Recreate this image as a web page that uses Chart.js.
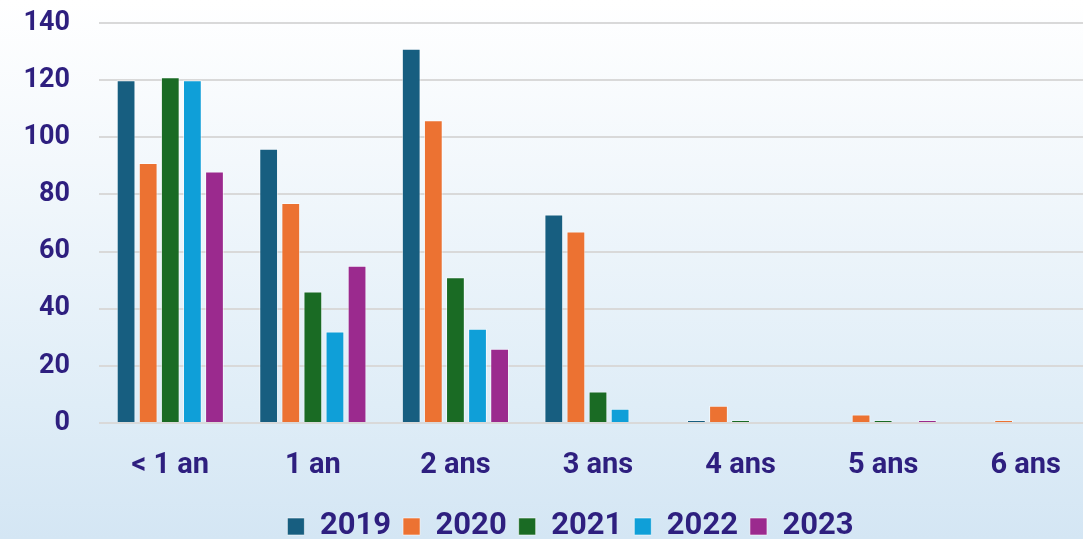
<!DOCTYPE html>
<html>
<head>
<meta charset="utf-8">
<script src="https://cdn.jsdelivr.net/npm/chart.js@4/dist/chart.umd.min.js"></script>
<style>
  html, body { margin: 0; padding: 0; overflow: hidden; }
  body {
    width: 1083px; height: 539px;
    background: linear-gradient(to bottom, #ffffff 0%, #f3f8fc 30%, #dfedf7 75%, #d4e6f4 100%);
  }
  #wrap { width: 1097px; height: 552px; }
</style>
</head>
<body>
<div id="wrap"><canvas id="grafico" width="1097" height="552"></canvas></div>
<script>
// CATEGORIAS E DADOS
const categories = ["< 1 an", "1 an", "2 ans", "3 ans", "4 ans", "5 ans", "6 ans"];
const years = ["2019", "2020", "2021", "2022", "2023"];
const v2019 = [120, 96, 131, 73, 1, 0, 0];
const v2020 = [91, 77, 106, 67, 6, 3, 1];
const v2021 = [121, 46, 51, 11, 1, 1, 0];
const v2022 = [120, 32, 33, 5, 0, 0, 0];
const v2023 = [88, 55, 26, 0, 0, 1, 0];
const yTicks = [0, 20, 40, 60, 80, 100, 120, 140];

const colors = ["#175e80", "#ec7232", "#1a6b24", "#0f9fd8", "#9b2a8e"];
const textColor = "#2e1f7f";
const allValues = [v2019, v2020, v2021, v2022, v2023];

// legenda um pouco deslocada para a direita
const shiftLegend = {
  id: "shiftLegend",
  afterLayout(chart) {
    chart.legend.left += 22;
    chart.legend.right += 22;
  },
};

const ctx = document.getElementById("grafico").getContext("2d");
new Chart(ctx, {
  type: "bar",
  data: {
    labels: categories,
    datasets: years.map((y, i) => ({
      label: y,
      data: allValues[i],
      backgroundColor: colors[i],
      borderColor: "rgba(255,255,255,0.55)",
      borderWidth: 1,
      categoryPercentage: 0.775,
      barPercentage: 0.85,
    })),
  },
  plugins: [shiftLegend],
  options: {
    responsive: false,
    animation: false,
    layout: { padding: { top: 23, right: 0, bottom: 0, left: 0 } },
    plugins: {
      legend: {
        position: "bottom",
        labels: {
          color: textColor,
          boxWidth: 17,
          boxHeight: 17,
          padding: 12,
          font: { family: "Roboto", size: 31, weight: "bold" },
        },
      },
      tooltip: { enabled: false },
    },
    scales: {
      x: {
        grid: { display: false },
        border: { display: false },
        ticks: {
          color: textColor,
          padding: 17,
          font: { family: "Roboto", size: 29, weight: "bold" },
        },
        afterFit: (scale) => { scale.height = 76; },
      },
      y: {
        min: 0,
        max: 140,
        afterBuildTicks: (scale) => { scale.ticks = yTicks.map((v) => ({ value: v })); },
        grid: { color: "#d9d9d9", lineWidth: 2, drawTicks: false },
        border: { display: false },
        ticks: {
          color: textColor,
          padding: 29,
          font: { family: "Roboto", size: 27, weight: "bold" },
        },
        afterFit: (scale) => {
          scale.width = 99;
          scale.paddingTop = 0;
          scale.paddingBottom = 0;
        },
      },
    },
  },
});
</script>
</body>
</html>
